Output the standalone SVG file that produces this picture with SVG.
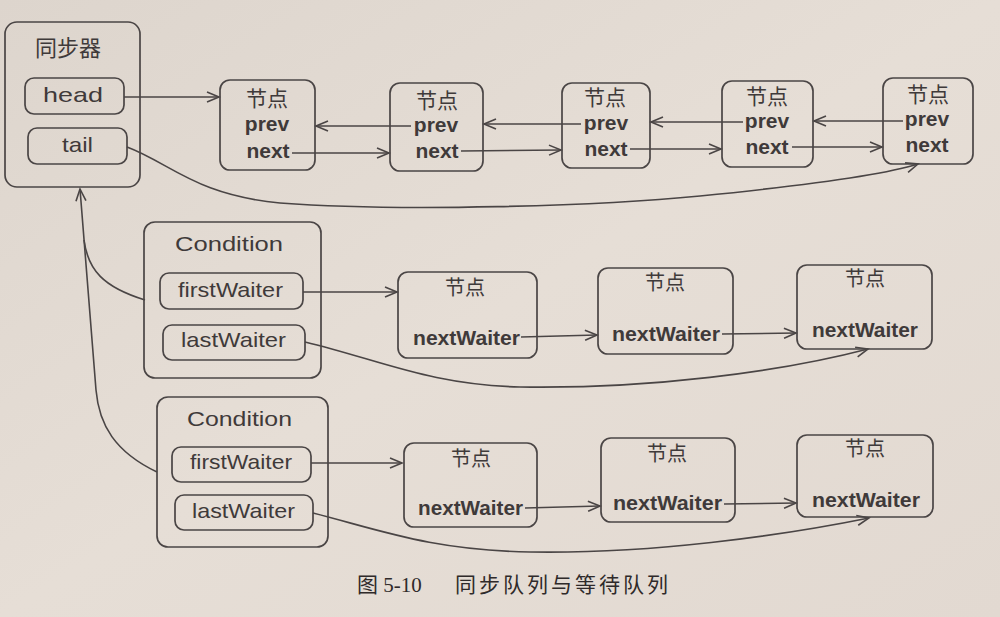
<svg xmlns="http://www.w3.org/2000/svg" width="1000" height="617" viewBox="0 0 1000 617">
<defs>
<linearGradient id="bg" x1="0" y1="0" x2="1" y2="1">
<stop offset="0" stop-color="#ddd5cd"/>
<stop offset="0.5" stop-color="#e6ded6"/>
<stop offset="1" stop-color="#e2d9d1"/>
</linearGradient>
<marker id="arr" markerUnits="userSpaceOnUse" markerWidth="16" markerHeight="14" refX="13" refY="6" orient="auto">
<path d="M1,1 L13,6 L1,11" fill="none" stroke="#4a4545" stroke-width="1.6"/>
</marker>
<style>
.box{fill:none;stroke:#4a4545;stroke-width:1.7}
.ln{fill:none;stroke:#4a4545;stroke-width:1.6}
.cjk{font-family:"Noto Sans CJK SC","Noto Sans",sans-serif;fill:#3f3a3a;text-anchor:middle}
.geo{font-family:"Liberation Sans","DejaVu Sans",sans-serif;fill:#3f3a3a;font-size:21px}
.bold{font-family:"Liberation Sans",Arial,sans-serif;font-weight:bold;fill:#3f3a3a;font-size:21px}
.cap{font-family:"Liberation Serif","Noto Sans CJK SC",serif;fill:#2f2a2a;font-size:21px}
</style>
</defs>
<rect x="0" y="0" width="1000" height="617" fill="url(#bg)"/>

<g id="connectors">
<path class="ln" d="M124,97 L219,97" marker-end="url(#arr)"/>
<path class="ln" d="M411,126 L316,126" marker-end="url(#arr)"/>
<path class="ln" d="M292,153 L389,153" marker-end="url(#arr)"/>
<path class="ln" d="M581,124 L484,124" marker-end="url(#arr)"/>
<path class="ln" d="M461,151 L561,150" marker-end="url(#arr)"/>
<path class="ln" d="M743,122 L651,122" marker-end="url(#arr)"/>
<path class="ln" d="M630,149 L721,149" marker-end="url(#arr)"/>
<path class="ln" d="M903,121 L814,121" marker-end="url(#arr)"/>
<path class="ln" d="M792,147 L882,147" marker-end="url(#arr)"/>
<path class="ln" d="M127,147 C170,163 195,195 280,203 C400,212 600,206 700,196 C800,186 880,176 918,164" marker-end="url(#arr)"/>

<path class="ln" d="M303,292 L397,292" marker-end="url(#arr)"/>
<path class="ln" d="M521,337 L597,335" marker-end="url(#arr)"/>
<path class="ln" d="M722,334 L796,333" marker-end="url(#arr)"/>
<path class="ln" d="M305,342 C380,360 430,385 520,387 C650,389 780,372 868,349" marker-end="url(#arr)"/>

<path class="ln" d="M311,463 L402,463" marker-end="url(#arr)"/>
<path class="ln" d="M525,508 L600,506" marker-end="url(#arr)"/>
<path class="ln" d="M724,504 L796,503" marker-end="url(#arr)"/>
<path class="ln" d="M313,513 C380,530 430,550 530,552 C650,554 780,536 869,518" marker-end="url(#arr)"/>

<path class="ln" d="M157,472 C115,452 99,425 96,390 L80,189" marker-end="url(#arr)"/>
<path class="ln" d="M145,300 C103,287 88,270 84,240"/>
</g>

<g id="sync">
<rect class="box" x="5" y="22" width="135" height="165" rx="12"/>
<text class="cjk" x="68" y="56" font-size="22">同步器</text>
</g>
<g id="head">
<rect class="box" x="25" y="78" width="99" height="36" rx="9"/>
<text class="geo" x="43" y="102" textLength="60" lengthAdjust="spacingAndGlyphs" font-size="23">head</text>
</g>
<g id="tail">
<rect class="box" x="28" y="128" width="99" height="36" rx="9"/>
<text class="geo" x="62" y="152" textLength="31" lengthAdjust="spacingAndGlyphs" font-size="23">tail</text>
</g>

<g id="node1">
<rect class="box" x="220" y="80" width="95" height="90" rx="10"/>
<text class="cjk" x="267" y="106" font-size="21">节点</text>
<text class="bold" x="267" y="131" text-anchor="middle" font-size="22">prev</text>
<text class="bold" x="268" y="158" text-anchor="middle" font-size="22">next</text>
</g>
<g id="node2">
<rect class="box" x="390" y="83" width="93" height="88" rx="10"/>
<text class="cjk" x="437" y="108" font-size="21">节点</text>
<text class="bold" x="436" y="132" text-anchor="middle" font-size="22">prev</text>
<text class="bold" x="437" y="158" text-anchor="middle" font-size="22">next</text>
</g>
<g id="node3">
<rect class="box" x="562" y="83" width="88" height="85" rx="10"/>
<text class="cjk" x="605" y="105" font-size="21">节点</text>
<text class="bold" x="606" y="130" text-anchor="middle" font-size="22">prev</text>
<text class="bold" x="606" y="156" text-anchor="middle" font-size="22">next</text>
</g>
<g id="node4">
<rect class="box" x="722" y="81" width="91" height="86" rx="10"/>
<text class="cjk" x="767" y="104" font-size="21">节点</text>
<text class="bold" x="767" y="128" text-anchor="middle" font-size="22">prev</text>
<text class="bold" x="767" y="154" text-anchor="middle" font-size="22">next</text>
</g>
<g id="node5">
<rect class="box" x="883" y="78" width="90" height="86" rx="10"/>
<text class="cjk" x="928" y="102" font-size="21">节点</text>
<text class="bold" x="927" y="126" text-anchor="middle" font-size="22">prev</text>
<text class="bold" x="927" y="152" text-anchor="middle" font-size="22">next</text>
</g>

<g id="condition1">
<rect class="box" x="144" y="222" width="177" height="156" rx="11"/>
<text class="geo" x="175" y="251" textLength="108" lengthAdjust="spacingAndGlyphs">Condition</text>
</g>
<g id="firstWaiter1">
<rect class="box" x="160" y="273" width="143" height="36" rx="9"/>
<text class="geo" x="178" y="297" textLength="105" lengthAdjust="spacingAndGlyphs">firstWaiter</text>
</g>
<g id="lastWaiter1">
<rect class="box" x="163" y="325" width="142" height="35" rx="9"/>
<text class="geo" x="181" y="347" textLength="105" lengthAdjust="spacingAndGlyphs">lastWaiter</text>
</g>
<g id="c1node1">
<rect class="box" x="398" y="272" width="139" height="86" rx="10"/>
<text class="cjk" x="465" y="295" font-size="20">节点</text>
<text class="bold" x="413" y="345" textLength="107" lengthAdjust="spacingAndGlyphs">nextWaiter</text>
</g>
<g id="c1node2">
<rect class="box" x="598" y="268" width="135" height="86" rx="10"/>
<text class="cjk" x="665" y="290" font-size="20">节点</text>
<text class="bold" x="612" y="341" textLength="108" lengthAdjust="spacingAndGlyphs">nextWaiter</text>
</g>
<g id="c1node3">
<rect class="box" x="797" y="265" width="135" height="84" rx="10"/>
<text class="cjk" x="865" y="286" font-size="20">节点</text>
<text class="bold" x="812" y="337" textLength="106" lengthAdjust="spacingAndGlyphs">nextWaiter</text>
</g>

<g id="condition2">
<rect class="box" x="157" y="397" width="171" height="150" rx="11"/>
<text class="geo" x="187" y="426" textLength="105" lengthAdjust="spacingAndGlyphs">Condition</text>
</g>
<g id="firstWaiter2">
<rect class="box" x="172" y="447" width="139" height="35" rx="9"/>
<text class="geo" x="190" y="469" textLength="102" lengthAdjust="spacingAndGlyphs">firstWaiter</text>
</g>
<g id="lastWaiter2">
<rect class="box" x="175" y="495" width="138" height="35" rx="9"/>
<text class="geo" x="192" y="518" textLength="103" lengthAdjust="spacingAndGlyphs">lastWaiter</text>
</g>
<g id="c2node1">
<rect class="box" x="404" y="443" width="133" height="84" rx="10"/>
<text class="cjk" x="471" y="466" font-size="20">节点</text>
<text class="bold" x="418" y="515" textLength="105" lengthAdjust="spacingAndGlyphs">nextWaiter</text>
</g>
<g id="c2node2">
<rect class="box" x="601" y="438" width="134" height="84" rx="10"/>
<text class="cjk" x="667" y="461" font-size="20">节点</text>
<text class="bold" x="613" y="510" textLength="109" lengthAdjust="spacingAndGlyphs">nextWaiter</text>
</g>
<g id="c2node3">
<rect class="box" x="797" y="435" width="136" height="82" rx="10"/>
<text class="cjk" x="865" y="456" font-size="20">节点</text>
<text class="bold" x="812" y="507" textLength="108" lengthAdjust="spacingAndGlyphs">nextWaiter</text>
</g>

<text class="cap" x="357" y="592">图 5-10</text>
<text class="cap" x="455" y="592" textLength="213" lengthAdjust="spacing" font-family="Noto Sans CJK SC">同步队列与等待队列</text>
</svg>
